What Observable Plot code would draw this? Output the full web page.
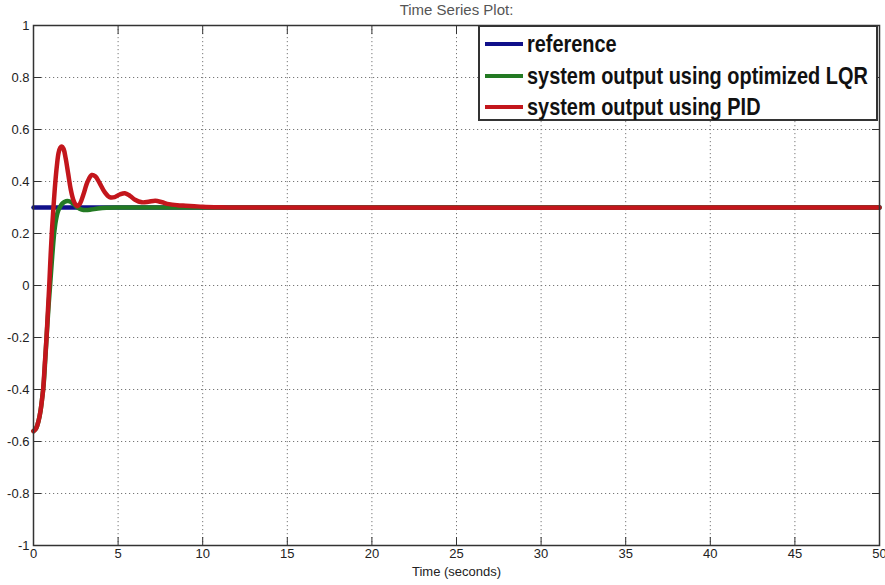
<!DOCTYPE html>
<html>
<head>
<meta charset="utf-8">
<script src="https://cdn.jsdelivr.net/npm/d3@7"></script>
<script src="https://cdn.jsdelivr.net/npm/@observablehq/plot@0.6"></script>
<style>
  html, body { margin: 0; padding: 0; background: #fff; }
  #wrap { position: relative; width: 885px; height: 585px; overflow: hidden; }
  #legend {
    position: absolute; left: 478px; top: 25px; width: 400px; height: 96px;
    border: 2px solid #333; background: #fff; box-sizing: border-box;
    font-family: "Liberation Sans", Arial, sans-serif; font-weight: bold; font-size: 24px; color: #111;
  }
  .row { position: absolute; left: 5px; height: 26px; display: flex; align-items: center; white-space: nowrap; }
  .sw { width: 38px; height: 4px; margin-right: 4px; flex: none; }
  .lab { display: inline-block; transform: scaleX(0.83); transform-origin: left center; }
</style>
</head>
<body>
<div id="wrap"></div>
<script>
const title = "Time Series Plot:";
const xLabel = "Time (seconds)";
const xTicks = [0, 5, 10, 15, 20, 25, 30, 35, 40, 45, 50];
const yTicks = [-1, -0.8, -0.6, -0.4, -0.2, 0, 0.2, 0.4, 0.6, 0.8, 1];
const yTickLabels = ["-1", "-0.8", "-0.6", "-0.4", "-0.2", "0", "0.2", "0.4", "0.6", "0.8", "1"];

const seriesNames = ["reference", "system output using optimized LQR", "system output using PID"];
const seriesColors = ["#10108a", "#237a23", "#c3161c"];

const refT = [0, 50];
const refY = [0.3, 0.3];

const lqrT = [0, 0.15, 0.3, 0.42, 0.5, 0.6, 0.7, 0.8, 0.9, 0.98, 1.08, 1.22, 1.32, 1.42, 1.55, 1.7, 1.85, 2.0, 2.15, 2.35, 2.6, 2.85, 3.1, 3.4, 3.8, 4.3, 5, 6, 50];
const lqrY = [-0.56, -0.55, -0.52, -0.48, -0.44, -0.38, -0.28, -0.17, -0.07, 0.0, 0.09, 0.20, 0.25, 0.28, 0.30, 0.315, 0.322, 0.325, 0.323, 0.315, 0.30, 0.292, 0.29, 0.292, 0.296, 0.299, 0.300, 0.300, 0.300];

const pidT = [0, 0.15, 0.3, 0.42, 0.5, 0.57, 0.67, 0.77, 0.85, 0.93, 1.0, 1.08, 1.18, 1.28, 1.38, 1.48, 1.58, 1.67, 1.78, 1.9, 2.05, 2.2, 2.35, 2.5, 2.6, 2.75, 2.95, 3.2, 3.45, 3.65, 3.9, 4.2, 4.5, 4.8, 5.1, 5.4, 5.7, 6.0, 6.4, 6.8, 7.2, 7.6, 8.0, 8.5, 9.0, 9.5, 10, 11, 12, 50];
const pidY = [-0.56, -0.55, -0.52, -0.48, -0.44, -0.40, -0.30, -0.20, -0.10, 0.0, 0.10, 0.20, 0.30, 0.39, 0.46, 0.51, 0.53, 0.535, 0.525, 0.49, 0.43, 0.37, 0.33, 0.31, 0.305, 0.315, 0.35, 0.40, 0.425, 0.42, 0.395, 0.36, 0.34, 0.34, 0.35, 0.355, 0.345, 0.33, 0.32, 0.322, 0.326, 0.32, 0.313, 0.309, 0.307, 0.305, 0.303, 0.301, 0.300, 0.300];

const toRows = (T, Y) => T.map((t, i) => ({t, y: Y[i]}));
const ref = toRows(refT, refY);
const lqr = toRows(lqrT, lqrY);
const pid = toRows(pidT, pidY);

const font = '"Liberation Sans", Arial, sans-serif';

const plot = Plot.plot({
  width: 885,
  height: 585,
  marginTop: 25,
  marginLeft: 33,
  marginRight: 6,
  marginBottom: 40,
  style: {fontFamily: font, fontSize: "13px", color: "#222", background: "#fff", overflow: "visible"},
  x: {domain: [0, 50], ticks: xTicks, label: null},
  y: {domain: [-1, 1], ticks: yTicks, label: null},
  marks: [
    Plot.gridX(xTicks, {stroke: "#777", strokeOpacity: 1, strokeDasharray: "1.2,2.8", strokeWidth: 1}),
    Plot.gridY(yTicks, {stroke: "#777", strokeOpacity: 1, strokeDasharray: "1.2,2.8", strokeWidth: 1}),
    Plot.axisX(xTicks, {anchor: "bottom", tickSize: -8, text: null, label: null, stroke: "#333"}),
    Plot.axisX(xTicks, {anchor: "top", tickSize: -8, text: null, label: null, stroke: "#333"}),
    Plot.axisY(yTicks, {anchor: "left", tickSize: -8, text: null, label: null, stroke: "#333"}),
    Plot.axisY(yTicks, {anchor: "right", tickSize: -8, text: null, label: null, stroke: "#333"}),
    Plot.axisX(xTicks, {anchor: "bottom", tickSize: 0, tickPadding: 3, label: null, fontSize: 13, ariaLabel: "xlabels"}),
    Plot.axisY(yTicks, {anchor: "left", tickSize: 0, tickPadding: 4, label: null, fontSize: 13,
      tickFormat: (d) => yTickLabels[yTicks.indexOf(d)]}),
    Plot.text([xLabel], {frameAnchor: "bottom", dy: 30, fontSize: 13, fill: "#222", ariaLabel: "xtitle"}),
    Plot.text([title], {frameAnchor: "top", lineAnchor: "bottom", dy: -11, fontSize: 15, fill: "#555", ariaLabel: "title"}),
    Plot.line(ref, {x: "t", y: "y", stroke: seriesColors[0], strokeWidth: 4.5}),
    Plot.line(lqr, {x: "t", y: "y", stroke: seriesColors[1], strokeWidth: 4.5, curve: "catmull-rom"}),
    Plot.line(pid, {x: "t", y: "y", stroke: seriesColors[2], strokeWidth: 4.5, curve: "catmull-rom"}),
    Plot.frame({stroke: "#333", strokeWidth: 1.5})
  ]
});

// condense selected labels horizontally around their anchor
function condense(selector, s) {
  plot.querySelectorAll(selector).forEach((t) => {
    const x = +(t.getAttribute("x") || 0);
    const tr = t.getAttribute("transform") || "";
    t.setAttribute("transform", `${tr} translate(${x},0) scale(${s},1) translate(${-x},0)`);
  });
}
condense("g[aria-label='xlabels'] text", 0.75);
condense("g[aria-label='xtitle'] text", 0.92);
condense("g[aria-label='title'] text", 0.78);

// keep the last x tick label inside the picture
const xl = plot.querySelectorAll("g[aria-label='xlabels'] text");
if (xl.length) {
  const last = xl[xl.length - 1];
  last.setAttribute("transform", "translate(-4,0) " + (last.getAttribute("transform") || ""));
}

const wrap = document.getElementById("wrap");
wrap.appendChild(plot);

const legend = document.createElement("div");
legend.id = "legend";
const tops = [4, 35.5, 67];
seriesNames.forEach((name, i) => {
  const row = document.createElement("div");
  row.className = "row";
  row.style.top = tops[i] + "px";
  const sw = document.createElement("div");
  sw.className = "sw";
  sw.style.background = seriesColors[i];
  const lab = document.createElement("span");
  lab.className = "lab";
  lab.textContent = name;
  row.appendChild(sw);
  row.appendChild(lab);
  legend.appendChild(row);
});
wrap.appendChild(legend);
</script>
</body>
</html>
